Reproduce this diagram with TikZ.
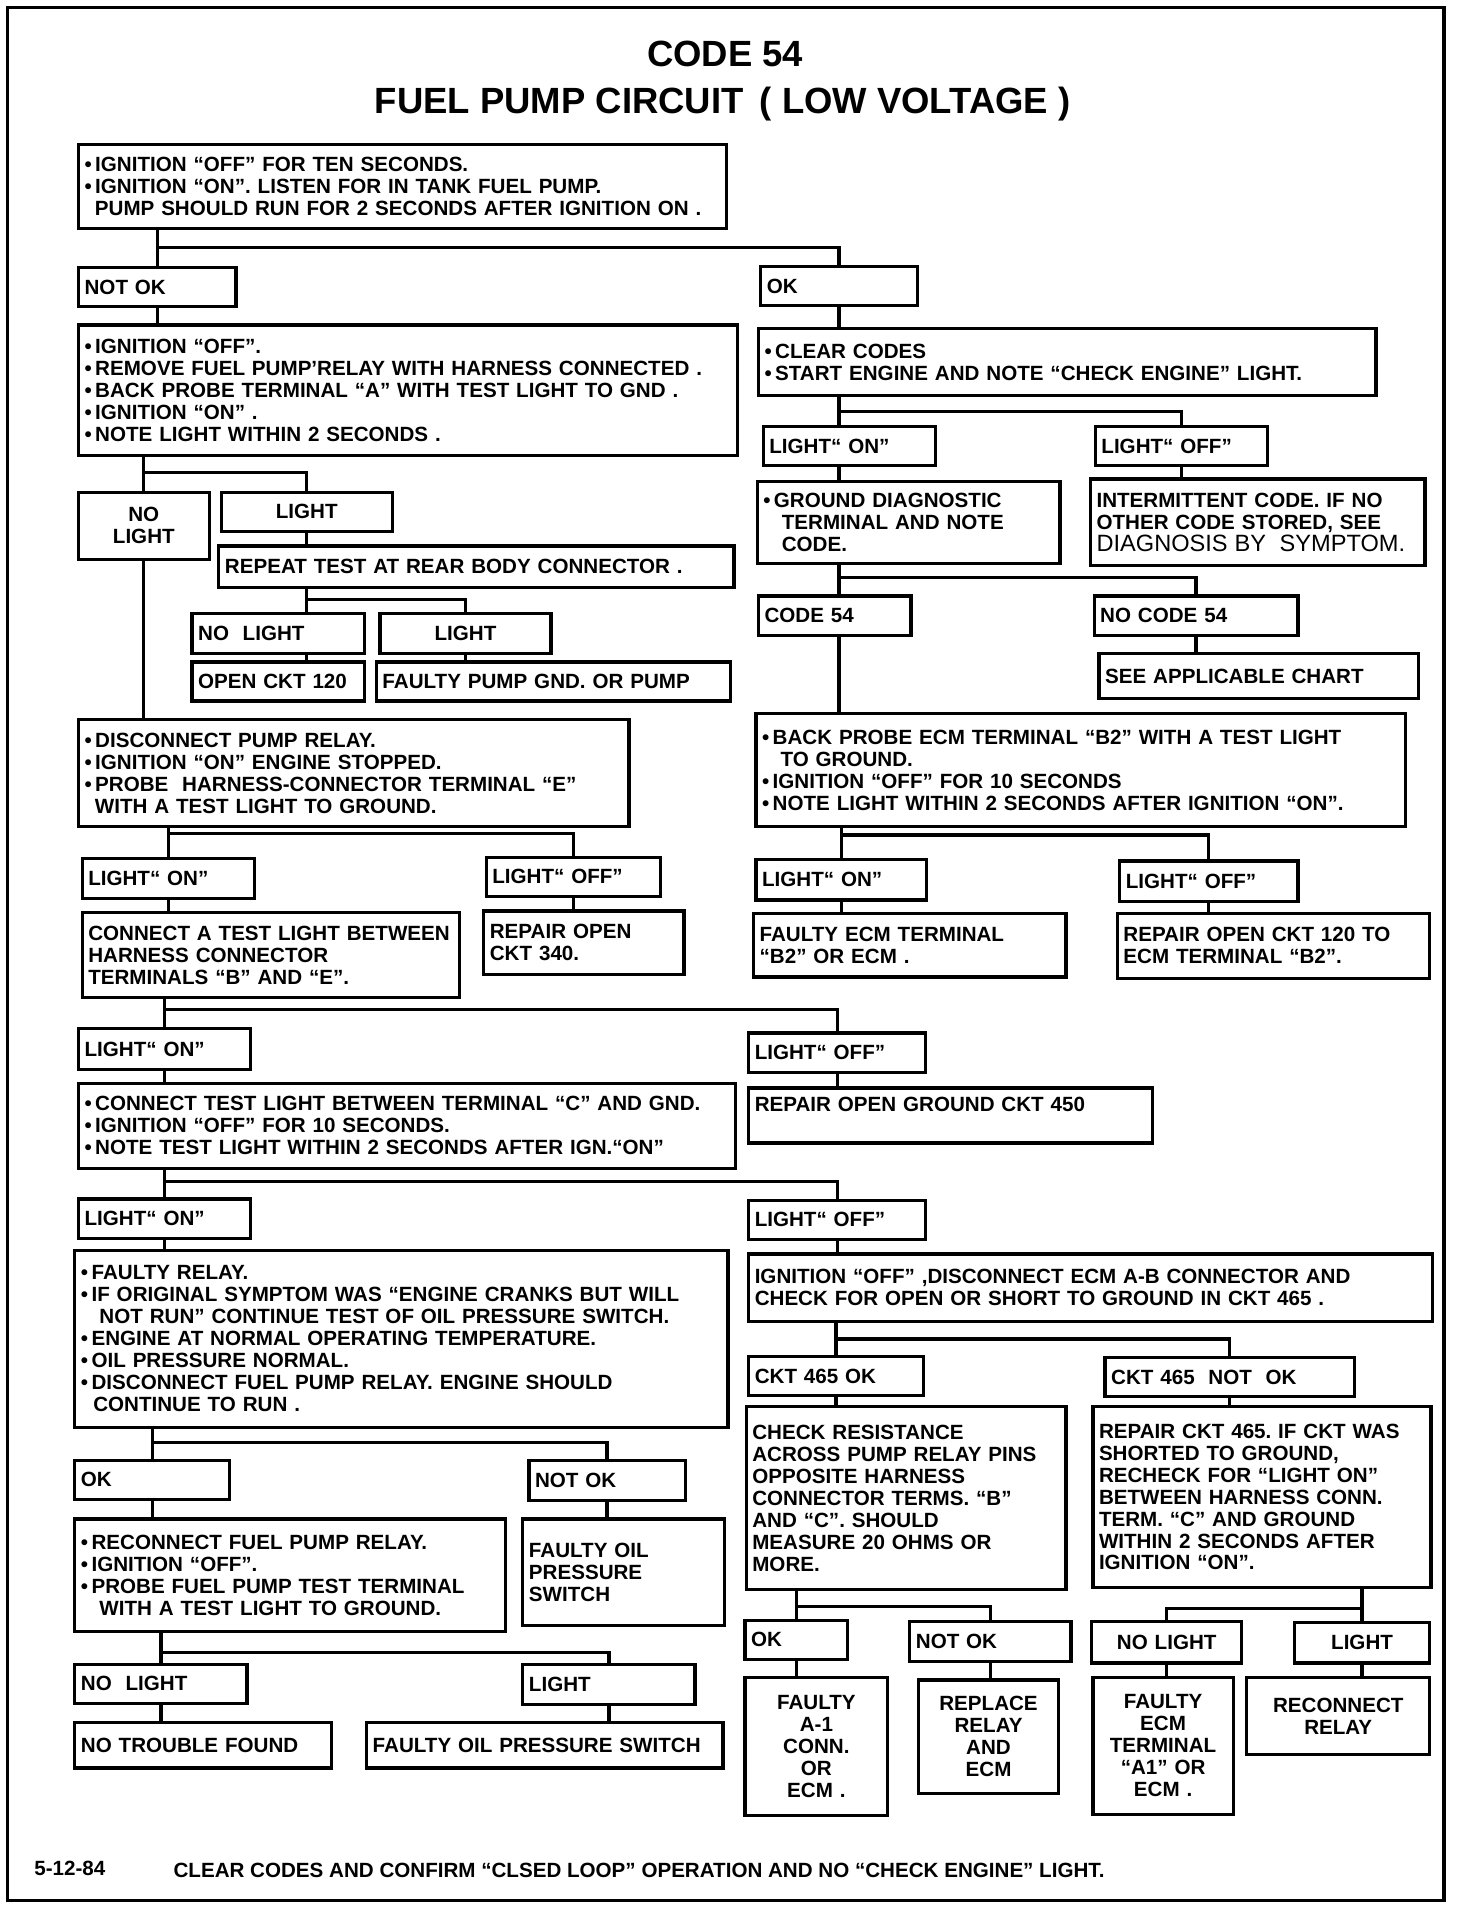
\documentclass[tikz,border=0pt]{standalone}
\usepackage{fontspec}
\setmainfont{Liberation Sans}
\newfontfamily\helvreg{Liberation Sans}
\frenchspacing
\tikzset{
  testbox/.style={draw, line width=1.5pt, anchor=north west, align=left,
                  inner xsep=1mm, inner ysep=0.4mm, font=\bfseries\fontsize{9.6}{10.25}\selectfont},
  resbox/.style={testbox, align=center},
  wire/.style={line width=1.5pt},
  pageframe/.style={line width=1.6pt},
  titletext/.style={font=\bfseries\fontsize{17}{20}\selectfont},
  foottext/.style={anchor=west, font=\bfseries\fontsize{9.6}{10.25}\selectfont},
}

\begin{document}
\begin{tikzpicture}[x=0.2mm, y=-0.2mm]
    \useasboundingbox (0,0) rectangle (1206,1568);
    \draw[pageframe] (6,6) rectangle (1183,1557);
    % titulo
    \node[titletext] (title) at (594,44) {CODE 54};
    \node[titletext] (subtitle) at (592,85) {FUEL PUMP CIRCUIT \,( LOW VOLTAGE )};
    % teste inicial
    \node[testbox, text width=104.2mm, minimum height=13.8mm] (start) at (63,117) {\textbullet\,IGNITION “OFF” FOR TEN SECONDS.\\ \textbullet\,IGNITION “ON”. LISTEN FOR IN TANK FUEL PUMP.\\ \hspace*{0.5em}PUMP SHOULD RUN FOR 2 SECONDS AFTER IGNITION ON .};
    \node[testbox, text width=23.8mm, minimum height=6.4mm] (notok) at (63,218) {NOT OK};
    \node[testbox, text width=23.6mm, minimum height=6.4mm] (ok) at (622,217) {OK};
    % coluna esquerda
    \node[testbox, text width=106mm, minimum height=21.4mm] (relaytest) at (63,265) {\textbullet\,IGNITION “OFF”.\\ \textbullet\,REMOVE FUEL PUMP'RELAY WITH HARNESS CONNECTED .\\ \textbullet\,BACK PROBE TERMINAL “A” WITH TEST LIGHT TO GND .\\ \textbullet\,IGNITION “ON” .\\ \textbullet\,NOTE LIGHT WITHIN 2 SECONDS .};
    \node[resbox, text width=19.4mm, minimum height=11mm] (nolightA) at (63,402) {NO\\LIGHT};
    \node[resbox, text width=26mm, minimum height=6.4mm] (lightA) at (180,402) {LIGHT};
    \node[testbox, text width=82.4mm, minimum height=6.8mm] (repeat) at (178,446) {REPEAT TEST AT REAR BODY CONNECTOR .};
    \node[testbox, text width=26.2mm, minimum height=6.6mm] (nolightB) at (156,501) {NO \ LIGHT};
    \node[resbox, text width=26mm, minimum height=6.6mm] (lightB) at (310,501) {LIGHT};
    \node[testbox, text width=26.2mm, minimum height=6.4mm] (ckt120) at (156,541) {OPEN CKT 120};
    \node[testbox, text width=56mm, minimum height=6.4mm] (pumpgnd) at (307,541) {FAULTY PUMP GND. OR PUMP};
    % coluna direita
    \node[testbox, text width=99.2mm, minimum height=11mm] (clear) at (620,268) {\textbullet\,CLEAR CODES\\ \textbullet\,START ENGINE AND NOTE “CHECK ENGINE” LIGHT.};
    \node[testbox, text width=26.2mm, minimum height=6.4mm] (onA) at (624,348) {LIGHT“ ON”};
    \node[testbox, text width=26.2mm, minimum height=6.4mm] (offA) at (896,348) {LIGHT“ OFF”};
    \node[testbox, text width=47.6mm, minimum height=13.4mm] (ground) at (619,393) {\textbullet\,GROUND DIAGNOSTIC\\ \hspace*{0.9em}TERMINAL AND NOTE\\ \hspace*{0.9em}CODE.};
    \node[testbox, text width=52.8mm, minimum height=14.2mm] (intermit) at (892,391) {INTERMITTENT CODE. IF NO\\ OTHER CODE STORED, SEE\\ {\helvreg\mdseries\fontsize{11}{12}\selectfont DIAGNOSIS BY \ SYMPTOM.}};
    \node[testbox, text width=23mm, minimum height=6.4mm] (code) at (620,487) {CODE 54};
    \node[testbox, text width=31.4mm, minimum height=6.4mm] (nocode) at (895,487) {NO CODE 54};
    \node[testbox, text width=50.4mm, minimum height=7.4mm] (chart) at (899,534) {SEE APPLICABLE CHART};
    % pump relay and ecm terminal b2
    \node[testbox, text width=88.2mm, minimum height=17.6mm] (pumprelay) at (63,588) {\textbullet\,DISCONNECT PUMP RELAY.\\ \textbullet\,IGNITION “ON” ENGINE STOPPED.\\ \textbullet\,PROBE \ HARNESS-CONNECTOR TERMINAL “E”\\ \hspace*{0.5em}WITH A TEST LIGHT TO GROUND.};
    \node[testbox, text width=104.4mm, minimum height=18.6mm] (ecmprobe) at (618,583) {\textbullet\,BACK PROBE ECM TERMINAL “B2” WITH A TEST LIGHT\\ \hspace*{0.9em}TO GROUND.\\ \textbullet\,IGNITION “OFF” FOR 10 SECONDS\\ \textbullet\,NOTE LIGHT WITHIN 2 SECONDS AFTER IGNITION “ON”.};
    \node[testbox, text width=26.2mm, minimum height=6.6mm] (onB) at (66,702) {LIGHT“ ON”};
    \node[testbox, text width=26.6mm, minimum height=6.4mm] (offB) at (397,701) {LIGHT“ OFF”};
    \node[testbox, text width=59.8mm, minimum height=14mm] (terminalsBE) at (66,746) {CONNECT A TEST LIGHT BETWEEN\\HARNESS CONNECTOR\\TERMINALS “B” AND “E”.};
    \node[testbox, text width=30.8mm, minimum height=10.4mm] (ckt340) at (395,745) {REPAIR OPEN\\CKT 340.};
    \node[testbox, text width=26mm, minimum height=6.6mm] (onC) at (618,703) {LIGHT“ ON”};
    \node[testbox, text width=27.2mm, minimum height=6.6mm] (offC) at (916,704) {LIGHT“ OFF”};
    \node[testbox, text width=49.2mm, minimum height=10.4mm] (ecmB2) at (616,747) {FAULTY ECM TERMINAL\\“B2” OR ECM .};
    \node[testbox, text width=49.2mm, minimum height=10.6mm] (ckt120ecm) at (914,747) {REPAIR OPEN CKT 120 TO\\ECM TERMINAL “B2”.};
    % terminal c
    \node[testbox, text width=26.2mm, minimum height=6.8mm] (onD) at (63,841) {LIGHT“ ON”};
    \node[testbox, text width=27mm, minimum height=6.4mm] (offD) at (612,845) {LIGHT“ OFF”};
    \node[testbox, text width=105.6mm, minimum height=14mm] (terminalC) at (63,886) {\textbullet\,CONNECT TEST LIGHT BETWEEN TERMINAL “C” AND GND.\\ \textbullet\,IGNITION “OFF” FOR 10 SECONDS.\\ \textbullet\,NOTE TEST LIGHT WITHIN 2 SECONDS AFTER IGN.“ON”};
    \node[testbox, text width=64.2mm, minimum height=9mm] (ckt450) at (612,890) {REPAIR OPEN GROUND CKT 450\\~};
    \node[testbox, text width=26.2mm, minimum height=6.4mm] (onE) at (63,981) {LIGHT“ ON”};
    \node[testbox, text width=27mm, minimum height=6.4mm] (offE) at (612,982) {LIGHT“ OFF”};
    % rele e ckt 465
    \node[testbox, text width=105mm, minimum height=29mm] (relayfault) at (60,1023) {\textbullet\,FAULTY RELAY.\\ \textbullet\,IF ORIGINAL SYMPTOM WAS “ENGINE CRANKS BUT WILL\\ \hspace*{0.9em}NOT RUN” CONTINUE TEST OF OIL PRESSURE SWITCH.\\ \textbullet\,ENGINE AT NORMAL OPERATING TEMPERATURE.\\ \textbullet\,OIL PRESSURE NORMAL.\\ \textbullet\,DISCONNECT FUEL PUMP RELAY. ENGINE SHOULD\\ \hspace*{0.6em}CONTINUE TO RUN .};
    \node[testbox, text width=110mm, minimum height=11mm] (ckt465chk) at (612,1026) {IGNITION “OFF” ,DISCONNECT ECM A-B CONNECTOR AND\\CHECK FOR OPEN OR SHORT TO GROUND IN CKT 465 .};
    \node[testbox, text width=23.4mm, minimum height=6.4mm] (okB) at (60,1195) {OK};
    \node[testbox, text width=23.6mm, minimum height=6.6mm] (notokB) at (432,1195) {NOT OK};
    \node[testbox, text width=68.6mm, minimum height=18.4mm] (testterm) at (60,1243) {\textbullet\,RECONNECT FUEL PUMP RELAY.\\ \textbullet\,IGNITION “OFF”.\\ \textbullet\,PROBE FUEL PUMP TEST TERMINAL\\ \hspace*{0.9em}WITH A TEST LIGHT TO GROUND.};
    \node[testbox, text width=31mm, minimum height=17.4mm] (oilsw) at (427,1243) {FAULTY OIL\\PRESSURE\\SWITCH};
    \node[testbox, text width=26.2mm, minimum height=6.4mm] (nolightC) at (60,1362) {NO \ LIGHT};
    \node[testbox, text width=26.2mm, minimum height=6.6mm] (lightC) at (427,1362) {LIGHT};
    \node[testbox, text width=40mm, minimum height=7.4mm] (notrouble) at (60,1410) {NO TROUBLE FOUND};
    \node[testbox, text width=56.4mm, minimum height=7.4mm] (oilsw2) at (299,1410) {FAULTY OIL PRESSURE SWITCH};
    \node[testbox, text width=26.6mm, minimum height=6.4mm] (cktok) at (612,1110) {CKT 465 OK};
    \node[testbox, text width=38.8mm, minimum height=6.4mm] (cktnotok) at (904,1111) {CKT 465 \ NOT \ OK};
    \node[testbox, text width=50.4mm, minimum height=30mm] (resist) at (610,1151) {CHECK RESISTANCE\\ACROSS PUMP RELAY PINS\\OPPOSITE HARNESS\\CONNECTOR TERMS. “B”\\AND “C”. SHOULD\\MEASURE 20 OHMS OR\\MORE.};
    \node[testbox, text width=53.4mm, minimum height=29.6mm] (repair465) at (894,1151) {REPAIR CKT 465. IF CKT WAS\\SHORTED TO GROUND,\\RECHECK FOR “LIGHT ON”\\BETWEEN HARNESS CONN.\\TERM. “C” AND GROUND\\WITHIN 2 SECONDS AFTER\\IGNITION “ON”.};
    \node[testbox, text width=14.8mm, minimum height=6.4mm] (okC) at (609,1326) {OK};
    \node[testbox, text width=24.4mm, minimum height=6.6mm] (notokC) at (744,1327) {NOT OK};
    \node[resbox, text width=22.6mm, minimum height=6.8mm] (nolightD) at (893,1327) {NO LIGHT};
    \node[resbox, text width=20.2mm, minimum height=6.6mm] (lightD) at (1059,1328) {LIGHT};
    \node[resbox, text width=21.4mm, minimum height=22.6mm] (conna1) at (609,1373) {FAULTY\\A-1\\CONN.\\OR\\ECM .};
    \node[resbox, text width=21mm, minimum height=18.6mm] (replace) at (751,1375) {REPLACE\\RELAY\\AND\\ECM};
    \node[resbox, text width=21mm, minimum height=22.4mm] (terma1) at (894,1373) {FAULTY\\ECM\\TERMINAL\\“A1” OR\\ECM .};
    \node[resbox, text width=28mm, minimum height=12.6mm] (reconnect) at (1020,1373) {RECONNECT\\RELAY};
    % rodape
    \node[foottext] (date) at (22,1531) {5-12-84};
    \node[foottext] (note) at (136,1532) {CLEAR CODES AND CONFIRM “CLSED LOOP” OPERATION AND NO “CHECK ENGINE” LIGHT.};
    % ligacoes
    \draw[wire] (start.south -| notok.north) -- (notok.north);
    \draw[wire] (notok.north) ++(0,-15) -| (ok.north);
    \draw[wire] (notok.south) -- (notok.south |- relaytest.north);
    \draw[wire] (ok.south) -- (ok.south |- clear.north);
    \draw[wire] (relaytest.south -| nolightA.north) -- (nolightA.north);
    \draw[wire] (nolightA.north) ++(0,-15) -| (lightA.north);
    \draw[wire] (lightA.south) -- (lightA.south |- repeat.north);
    \draw[wire] (repeat.south -| lightA.south) -- (nolightB.north -| lightA.south);
    \draw[wire] (nolightB.north -| lightA.south) ++(0,-10) -| (lightB.north);
    \draw[wire] (nolightB.south -| lightA.south) -- (ckt120.north -| lightA.south);
    \draw[wire] (lightB.south) -- (lightB.south |- pumpgnd.north);
    \draw[wire] (nolightA.south) -- (nolightA.south |- pumprelay.north);
    \draw[wire] (clear.south -| ok.south) -- (onA.north -| ok.south);
    \draw[wire] (onA.north -| ok.south) ++(0,-11) -| (offA.north);
    \draw[wire] (onA.south -| ok.south) -- (ground.north -| ok.south);
    \draw[wire] (offA.south) -- (offA.south |- intermit.north);
    \draw[wire] (ground.south -| ok.south) -- (code.north -| ok.south);
    \draw[wire] (code.north -| ok.south) ++(0,-14) -| (nocode.north);
    \draw[wire] (nocode.south) -- (nocode.south |- chart.north);
    \draw[wire] (code.south -| ok.south) -- (ecmprobe.north -| ok.south);
    \draw[wire] (pumprelay.south -| onB.north) -- (onB.north);
    \draw[wire] (onB.north) ++(0,-19) -| (offB.north);
    \draw[wire] (onB.south) -- (onB.south |- terminalsBE.north);
    \draw[wire] (offB.south) -- (offB.south |- ckt340.north);
    \draw[wire] (ecmprobe.south -| onC.north) -- (onC.north);
    \draw[wire] (onC.north) ++(0,-19) -| (offC.north);
    \draw[wire] (onC.south) -- (onC.south |- ecmB2.north);
    \draw[wire] (offC.south) -- (offC.south |- ckt120ecm.north);
    \draw[wire] (terminalsBE.south -| onD.north) -- (onD.north);
    \draw[wire] (onD.north) ++(0,-14) -| (offD.north);
    \draw[wire] (onD.south) -- (onD.south |- terminalC.north);
    \draw[wire] (offD.south) -- (offD.south |- ckt450.north);
    \draw[wire] (terminalC.south -| onE.north) -- (onE.north);
    \draw[wire] (onE.north) ++(0,-13) -| (offE.north);
    \draw[wire] (onE.south) -- (onE.south |- relayfault.north);
    \draw[wire] (offE.south) -- (offE.south |- ckt465chk.north);
    \draw[wire] (relayfault.south -| okB.north) -- (okB.north);
    \draw[wire] (okB.north) ++(0,-13) -| (notokB.north);
    \draw[wire] (okB.south) -- (okB.south |- testterm.north);
    \draw[wire] (notokB.south) -- (notokB.south |- oilsw.north);
    \draw[wire] (testterm.south -| nolightC.north) -- (nolightC.north);
    \draw[wire] (nolightC.north) ++(0,-8) -| (lightC.north);
    \draw[wire] (nolightC.south) -- (nolightC.south |- notrouble.north);
    \draw[wire] (lightC.south) -- (lightC.south |- oilsw2.north);
    \draw[wire] (ckt465chk.south -| cktok.north) -- (cktok.north);
    \draw[wire] (cktok.north) ++(0,-13) -| (cktnotok.north);
    \draw[wire] (cktok.south) -- (cktok.south |- resist.north);
    \draw[wire] (cktnotok.south) -- (cktnotok.south |- repair465.north);
    \draw[wire] (resist.south -| okC.north) -- (okC.north);
    \draw[wire] (okC.north) ++(0,-10) -| (notokC.north);
    \draw[wire] (okC.south) -- (okC.south |- conna1.north);
    \draw[wire] (notokC.south) -- (notokC.south |- replace.north);
    \draw[wire] (repair465.south -| lightD.north) -- (lightD.north);
    \draw[wire] (lightD.north) ++(0,-10) -| (nolightD.north);
    \draw[wire] (nolightD.south) -- (nolightD.south |- terma1.north);
    \draw[wire] (lightD.south) -- (lightD.south |- reconnect.north);
\end{tikzpicture}
\end{document}
